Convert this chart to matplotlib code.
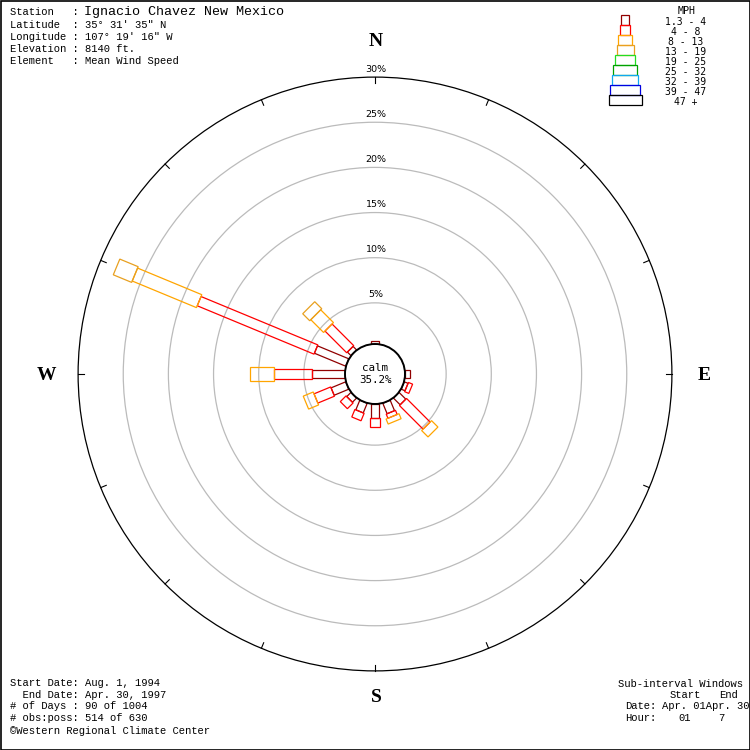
import numpy as np
import matplotlib
matplotlib.use("Agg")
import matplotlib.pyplot as plt
from matplotlib.patches import Polygon, Circle, Rectangle

# 16 directions, clockwise from north (degrees)
directions = ["N", "NNE", "NE", "ENE", "E", "ESE", "SE", "SSE",
              "S", "SSW", "SW", "WSW", "W", "WNW", "NW", "NNW"]
bearings = np.arange(16) * 22.5

# percent frequency per speed class, per direction
class_1 = [0.8, 0, 0, 0, 1.0, 0.9, 1.5, 1.7, 2.0, 1.6, 1.1, 2.2, 4.1, 4.2, 1.0, 0]
class_2 = [0, 0, 0, 0, 0, 0.5, 3.7, 0.5, 1.0, 0.9, 0.9, 2.0, 4.2, 14.0, 3.4, 0]
class_3 = [0, 0, 0, 0, 0, 0, 1.0, 0.6, 0, 0, 0, 1.2, 2.7, 7.7, 2.0, 0]
class_4 = [0, 0, 0, 0, 0, 0, 0, 0, 0, 0, 0, 0, 0, 2.2, 1.1, 0]
classes = [class_1, class_2, class_3, class_4]

speed_labels = ["1.3 - 4", "4 - 8", "8 - 13", "13 - 19", "19 - 25",
                "25 - 32", "32 - 39", "39 - 47", "47 +"]
speed_colors = ["#900000", "#FF0000", "#FFA500", "#E8A020", "#22DD22",
                "#00A000", "#10A8F0", "#0000E0", "#000000"]
box_widths = [8, 10, 14, 17, 20, 24, 26, 30, 33]

ring_pcts = [5, 10, 15, 20, 25, 30]
calm_pct = 35.2

# geometry (pixels)
CX, CY = 375, 374
R_CALM = 30
R0, K = 26, 9.03          # radius = R0 + K * percent


def rad(p):
    return R0 + K * p


fig = plt.figure(figsize=(7.5, 7.5), dpi=100)
ax = fig.add_axes([0, 0, 1, 1])
ax.set_xlim(0, 750)
ax.set_ylim(750, 0)
ax.axis("off")

# frame
ax.add_patch(Rectangle((0.5, 0.5), 749, 749, fill=False, ec="black", lw=1.2))

# rings
for p in ring_pcts:
    col = "black" if p == 30 else "#BBBBBB"
    ax.add_patch(Circle((CX, CY), rad(p), fill=False, ec=col, lw=0.9))
    ax.text(CX + 1, CY - rad(p) - 8, f"{p}%", ha="center", va="center",
            fontsize=6.8, family="DejaVu Sans")

# ticks on outer ring
for b in bearings:
    s, c = np.sin(np.radians(b)), -np.cos(np.radians(b))
    r1, r2 = rad(30), rad(30) - 6
    ax.plot([CX + s * r1, CX + s * r2], [CY + c * r1, CY + c * r2],
            color="black", lw=0.8)

# petals
for i, b in enumerate(bearings):
    s, c = np.sin(np.radians(b)), -np.cos(np.radians(b))
    px, py = -c, s
    start = R_CALM
    cum = 0
    for k, cls in enumerate(classes):
        v = cls[i]
        if v <= 0:
            continue
        cum += v
        end = rad(cum)
        hw = box_widths[k] / 2
        pts = [(CX + s * start + px * hw, CY + c * start + py * hw),
               (CX + s * end + px * hw, CY + c * end + py * hw),
               (CX + s * end - px * hw, CY + c * end - py * hw),
               (CX + s * start - px * hw, CY + c * start - py * hw)]
        ax.add_patch(Polygon(pts, closed=True, fill=False,
                             ec=speed_colors[k], lw=0.9))
        start = end

# calm circle
ax.add_patch(Circle((CX, CY), R_CALM, fc="white", ec="black", lw=1.4, zorder=5))
ax.text(CX, CY - 6, "calm", ha="center", va="center", fontsize=7.8,
        family="DejaVu Sans Mono", zorder=6)
ax.text(CX, CY + 6, f"{calm_pct}%", ha="center", va="center", fontsize=7.8,
        family="DejaVu Sans Mono", zorder=6)

# compass letters
for lab, x, y in [("N", 376, 42), ("S", 376, 698), ("W", 46, 375), ("E", 704, 375)]:
    ax.text(x, y, lab, ha="center", va="center", fontsize=14,
            family="Liberation Serif", fontweight="bold")

# legend
ax.text(687, 11, "MPH", ha="center", va="center", fontsize=7.2,
        family="DejaVu Sans Mono")
for k, (lab, col, w) in enumerate(zip(speed_labels, speed_colors, box_widths)):
    y0 = 15 + 10 * k
    ax.add_patch(Rectangle((625 - w / 2, y0), w, 10, fill=False, ec=col, lw=0.9))
    ax.text(686, 22 + 10 * k, lab, ha="center", va="center", fontsize=7.0,
            family="DejaVu Sans Mono")

# header
mono = "Liberation Mono"
fs = 7.6
ax.text(10, 12, "Station   : ", ha="left", va="center", fontsize=fs, family=mono)
ax.text(84, 12, "Ignacio Chavez New Mexico", ha="left", va="center",
        fontsize=9.6, family=mono)
header = ["Latitude  : 35\u00b0 31' 35\" N",
          "Longitude : 107\u00b0 19' 16\" W",
          "Elevation : 8140 ft.",
          "Element   : Mean Wind Speed"]
for j, line in enumerate(header):
    ax.text(10, 25 + 12 * j, line, ha="left", va="center", fontsize=fs, family=mono)

# footer left
footer = ["Start Date: Aug. 1, 1994",
          "  End Date: Apr. 30, 1997",
          "# of Days : 90 of 1004",
          "# obs:poss: 514 of 630",
          "\u00a9Western Regional Climate Center"]
for j, (line, y) in enumerate(zip(footer, [683, 695, 706, 718, 731])):
    ax.text(10, y, line, ha="left", va="center", fontsize=fs, family=mono)

# footer right
ax.text(618, 684, "Sub-interval Windows", ha="left", va="center", fontsize=fs, family=mono)
ax.text(670, 695, "Start", ha="left", va="center", fontsize=fs, family=mono)
ax.text(719, 695, "End", ha="left", va="center", fontsize=fs, family=mono)
ax.text(625, 706, "Date:", ha="left", va="center", fontsize=fs, family=mono)
ax.text(662, 706, "Apr. 01Apr. 30", ha="left", va="center", fontsize=fs, family=mono)
ax.text(625, 718, "Hour:", ha="left", va="center", fontsize=fs, family=mono)
ax.text(678, 718, "01", ha="left", va="center", fontsize=fs, family=mono)
ax.text(718, 718, "7", ha="left", va="center", fontsize=fs, family=mono)

fig.savefig("out.png", dpi=100)
